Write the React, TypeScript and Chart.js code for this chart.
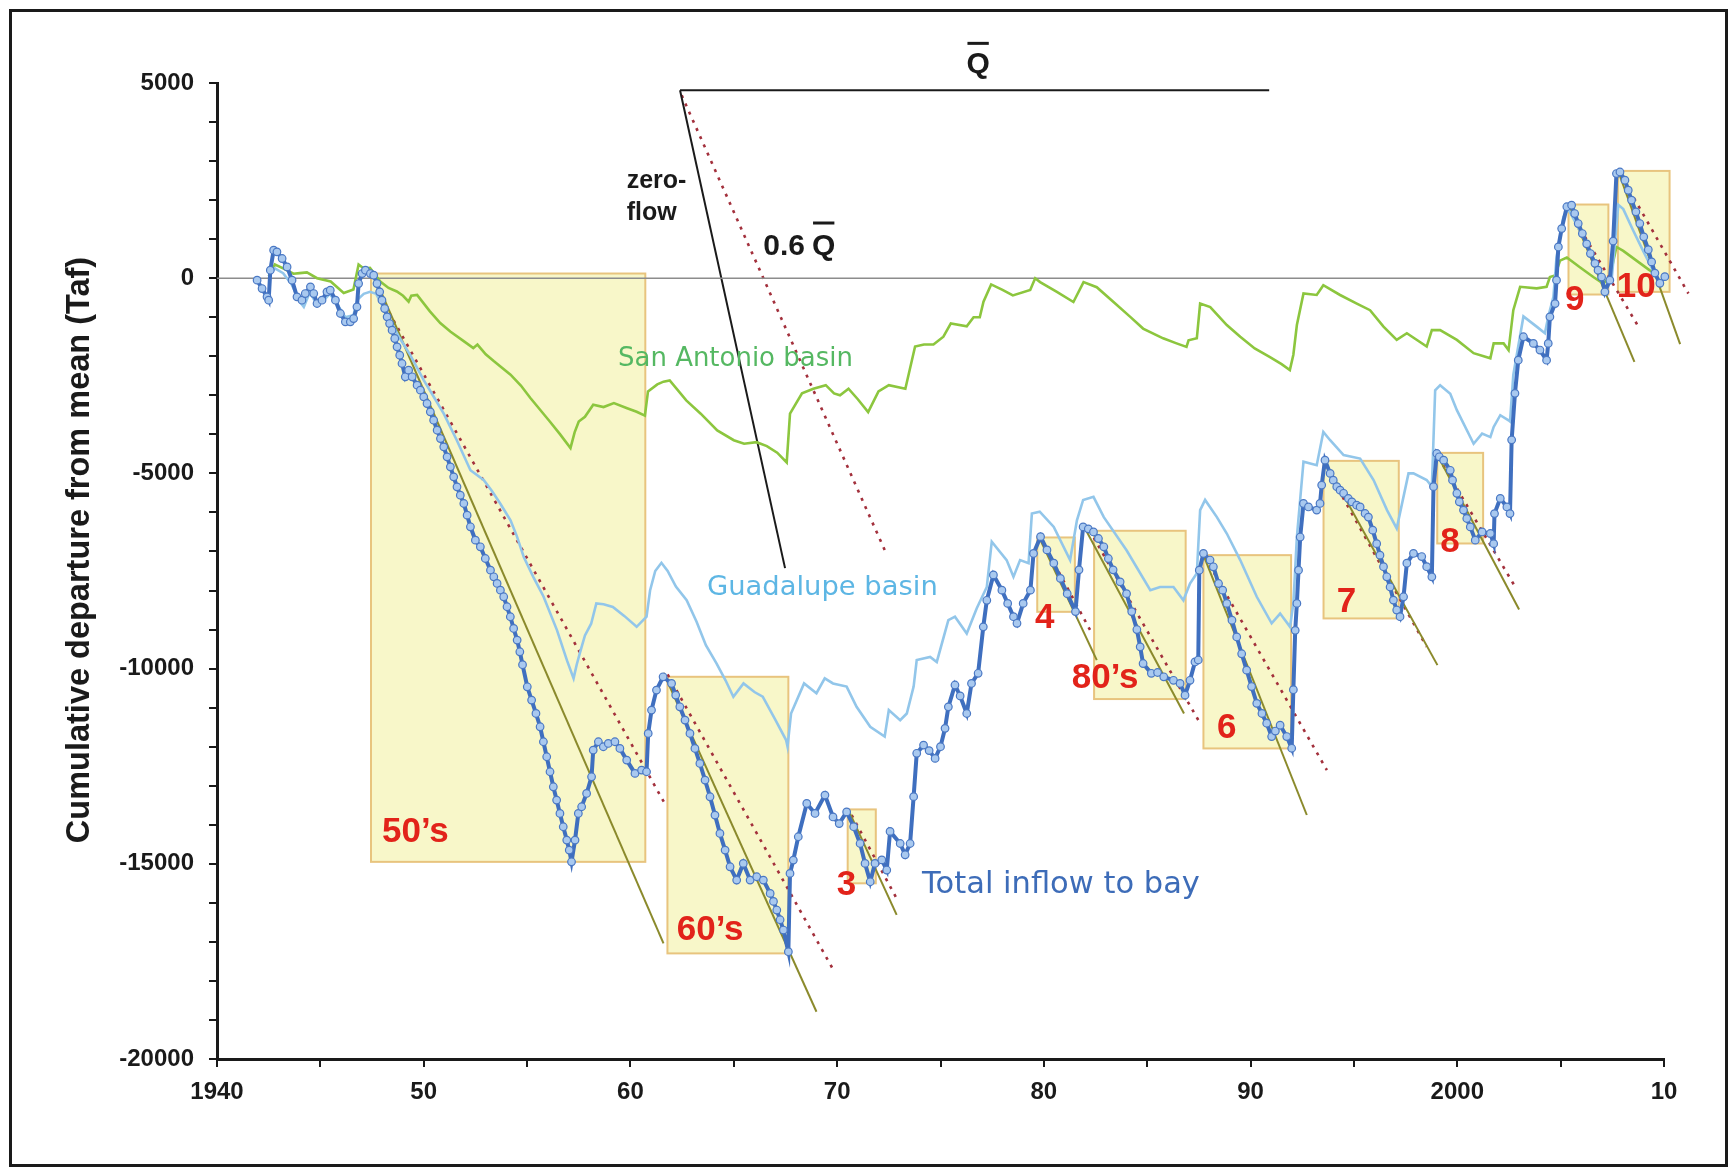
import React, { useEffect, useRef } from 'react';
import { Chart, registerables } from 'chart.js';

Chart.register(...registerables);

// ---------------- DATA ----------------
const totalYears = [
  1941.94, 1942.18, 1942.42, 1942.5, 1942.58, 1942.74, 1942.9, 1943.15, 1943.39, 1943.63, 1943.87, 1944.11, 1944.27,
  1944.52, 1944.68, 1944.84, 1945.08, 1945.32, 1945.48, 1945.73, 1945.97, 1946.21, 1946.45, 1946.61, 1946.77, 1946.85,
  1947.02, 1947.18, 1947.42, 1947.58, 1947.74, 1947.87, 1947.98, 1948.11, 1948.23, 1948.35, 1948.47, 1948.6, 1948.71,
  1948.84, 1948.95, 1949.11, 1949.27, 1949.44, 1949.68, 1949.84, 1950.0, 1950.16, 1950.32, 1950.48, 1950.65, 1950.81,
  1950.97, 1951.13, 1951.29, 1951.45, 1951.61, 1951.77, 1951.94, 1952.1, 1952.26, 1952.5, 1952.74, 1952.98, 1953.23,
  1953.39, 1953.55, 1953.71, 1953.87, 1954.03, 1954.19, 1954.35, 1954.52, 1954.65, 1954.78, 1955.01, 1955.22, 1955.43,
  1955.63, 1955.79, 1955.95, 1956.11, 1956.27, 1956.43, 1956.59, 1956.75, 1956.92, 1957.04, 1957.15, 1957.32, 1957.48,
  1957.64, 1957.88, 1958.12, 1958.2, 1958.45, 1958.69, 1958.93, 1959.25, 1959.49, 1959.82, 1960.22, 1960.54, 1960.78,
  1960.86, 1961.02, 1961.26, 1961.58, 1961.99, 1962.19, 1962.39, 1962.64, 1962.88, 1963.12, 1963.36, 1963.61, 1963.85,
  1964.09, 1964.33, 1964.58, 1964.82, 1965.14, 1965.46, 1965.79, 1966.11, 1966.43, 1966.76, 1966.92, 1967.08, 1967.24,
  1967.4, 1967.64, 1967.72, 1967.88, 1968.12, 1968.53, 1968.93, 1969.41, 1969.8, 1970.1, 1970.46, 1970.8, 1971.11,
  1971.35, 1971.6, 1971.83, 1972.16, 1972.4, 1972.56, 1973.05, 1973.29, 1973.53, 1973.7, 1973.85, 1974.18, 1974.45,
  1974.74, 1975.0, 1975.22, 1975.38, 1975.7, 1975.95, 1976.27, 1976.5, 1976.82, 1977.07, 1977.24, 1977.56, 1977.97,
  1978.25, 1978.53, 1978.7, 1979.0, 1979.35, 1979.5, 1979.84, 1980.15, 1980.48, 1980.8, 1981.13, 1981.53, 1981.7,
  1981.9, 1982.15, 1982.4, 1982.64, 1982.9, 1983.12, 1983.35, 1983.69, 1984.0, 1984.25, 1984.5, 1984.66, 1984.8,
  1985.2, 1985.5, 1985.8, 1986.27, 1986.59, 1986.83, 1987.07, 1987.31, 1987.47, 1987.52, 1987.72, 1988.04, 1988.2,
  1988.45, 1988.65, 1988.85, 1989.1, 1989.33, 1989.57, 1989.81, 1990.05, 1990.3, 1990.55, 1990.78, 1991.02, 1991.2,
  1991.43, 1991.75, 1991.99, 1992.07, 1992.16, 1992.24, 1992.32, 1992.4, 1992.56, 1992.8, 1993.2, 1993.36, 1993.44,
  1993.6, 1993.85, 1994.0, 1994.17, 1994.33, 1994.5, 1994.73, 1994.9, 1995.13, 1995.3, 1995.54, 1995.7, 1995.91,
  1996.1, 1996.26, 1996.43, 1996.59, 1996.75, 1996.91, 1997.07, 1997.23, 1997.4, 1997.56, 1997.88, 1998.28, 1998.52,
  1998.77, 1998.85, 1999.01, 1999.13, 1999.34, 1999.66, 1999.77, 1999.98, 2000.1, 2000.3, 2000.46, 2000.63, 2000.87,
  2001.2, 2001.6, 2001.76, 2001.8, 2002.08, 2002.4, 2002.55, 2002.63, 2002.79, 2002.95, 2003.2, 2003.68, 2004.0,
  2004.32, 2004.4, 2004.48, 2004.73, 2004.8, 2004.89, 2005.05, 2005.3, 2005.53, 2005.68, 2005.85, 2006.05, 2006.26,
  2006.44, 2006.66, 2006.81, 2006.98, 2007.14, 2007.38, 2007.54, 2007.7, 2007.87, 2008.11, 2008.27, 2008.43, 2008.64,
  2008.83, 2009.02, 2009.24, 2009.4, 2009.56, 2009.8, 2010.04,
];
const totalValues = [
  -50, -265, -478, -563, 205, 717, 675, 504, 290, -51, -478, -563, -393,
  -222, -393, -648, -563, -350, -307, -563, -904, -1118, -1118, -1033, -734, -137,
  119, 205, 119, 77, -137, -350, -563, -777, -990, -1161, -1332, -1545, -1758,
  -1972, -2185, -2526, -2355, -2526, -2740, -2868, -3039, -3210, -3423, -3637, -3893, -4107,
  -4320, -4576, -4832, -5088, -5344, -5558, -5771, -6070, -6368, -6710, -6880, -7180, -7478,
  -7649, -7819, -7990, -8160, -8416, -8672, -8971, -9270, -9569, -9900, -10466, -10807, -11149,
  -11490, -11874, -12258, -12642, -13027, -13368, -13710, -14051, -14393, -14649, -14948, -14393, -13710,
  -13539, -13198, -12771, -12088, -11874, -12002, -11917, -11874, -12045, -12344, -12685, -12600, -12642,
  -11661, -11063, -10551, -10210, -10380, -10679, -10978, -11319, -11661, -12045, -12429, -12856, -13283,
  -13752, -14222, -14649, -15076, -15417, -14990, -15417, -15332, -15417, -15758, -15963, -16185, -16433,
  -16697, -17252, -15246, -14905, -14307, -13454, -13710, -13240, -13800, -13970, -13670, -14050, -14480,
  -14990, -15460, -14990, -14900, -15160, -14170, -14480, -14770, -14480, -13280, -12170, -11960, -12100,
  -12300, -12000, -11530, -10980, -10420, -10700, -11150, -10380, -10120, -8930, -8250, -7600, -7990,
  -8330, -8670, -8840, -8330, -7990, -7050, -6620, -6960, -7300, -7690, -8080, -8540, -7470,
  -6370, -6420, -6500, -6668, -6880, -7180, -7470, -7778, -8080, -8540, -9000, -9443, -9870,
  -10120, -10100, -10210, -10300, -10380, -10680, -10300, -9830, -9780, -7480, -7050, -7220, -7392,
  -7820, -7990, -8330, -8760, -9190, -9620, -10040, -10460, -10890, -11150, -11400, -11740, -11600,
  -11450, -11740, -12040, -10540, -9020, -8330, -7480, -6630, -5770, -5860, -5940, -5770, -5300,
  -4660, -5000, -5173, -5340, -5429, -5510, -5643, -5730, -5813, -5860, -6027, -6120, -6454,
  -6800, -7094, -7390, -7649, -7910, -8246, -8500, -8670, -8160, -7300, -7050, -7130, -7390,
  -7650, -5340, -4490, -4575, -4660, -4920, -5173, -5510, -5728, -5940, -6155, -6370, -6710,
  -6500, -6540, -6800, -6030, -5640, -5860, -6030, -4140, -2950, -2100, -1500, -1670, -1840,
  -2100, -1670, -990, -650, -50, 800, 1270, 1830, 1870, 1656, 1400, 1144, 880,
  631, 380, 205, 30, -350, -50, 950, 2680, 2720, 2510, 2254, 2000, 1699,
  1400, 1059, 730, 418, 130, -130, 40,
];

const guadalupeYears = [
  1942.6, 1942.8, 1943.2, 1943.6, 1944.0, 1944.2, 1944.5, 1944.84, 1945.2, 1945.45, 1945.8, 1946.2, 1946.6, 1946.8,
  1947.1, 1947.4, 1947.7, 1948.0, 1948.4, 1948.8, 1949.35, 1950.0, 1950.5, 1950.97, 1951.6, 1952.26, 1952.9, 1953.3,
  1953.7, 1954.2, 1954.5, 1954.84, 1955.3, 1955.8, 1956.45, 1956.93, 1957.25, 1957.4, 1957.55, 1957.8, 1958.1, 1958.35,
  1958.7, 1959.15, 1959.7, 1960.3, 1960.78, 1960.95, 1961.2, 1961.5, 1961.8, 1962.2, 1962.72, 1963.2, 1963.65, 1964.17,
  1964.6, 1964.98, 1965.47, 1966.0, 1966.4, 1967.0, 1967.53, 1967.6, 1967.77, 1968.4, 1969.0, 1969.4, 1969.8, 1970.46,
  1970.94, 1971.6, 1972.3, 1972.5, 1973.05, 1973.37, 1973.7, 1973.85, 1974.5, 1974.82, 1975.38, 1975.7, 1976.27,
  1976.75, 1977.24, 1977.48, 1978.2, 1978.53, 1978.85, 1979.26, 1979.42, 1979.8, 1980.48, 1981.27, 1981.6, 1981.9,
  1982.4, 1982.9, 1984.0, 1985.15, 1985.62, 1986.27, 1986.75, 1987.07, 1987.4, 1987.56, 1987.8, 1988.37, 1988.85,
  1989.5, 1990.3, 1991.02, 1991.43, 1991.91, 1992.07, 1992.24, 1992.56, 1993.2, 1993.52, 1993.85, 1994.5, 1995.3,
  1995.95, 1996.6, 1997.07, 1997.64, 1997.88, 1998.52, 1998.77, 1998.93, 1999.17, 1999.66, 1999.98, 2000.79, 2001.2,
  2001.6, 2001.76, 2002.08, 2002.48, 2002.55, 2002.71, 2003.2, 2003.84, 2004.24, 2004.4, 2004.65, 2004.8, 2005.13,
  2005.37, 2005.93, 2006.42, 2006.9, 2007.14, 2007.46, 2007.79, 2008.03, 2008.51, 2008.99, 2009.47, 2009.8,
];
const guadalupeValues = [
  150, 250, 130, -150, -600, -735, -350, -700, -550, -400, -650, -1000, -950, -550,
  -400, -350, -400, -700, -1090, -1500, -1970, -2610, -3050, -3470, -4150, -4920, -5170, -5450,
  -5770, -6200, -6600, -7140, -7650, -8160, -9020, -9790, -10250, -9900, -9610, -9150, -8850, -8330,
  -8350, -8420, -8650, -8930, -8670, -8000, -7500, -7290, -7500, -7900, -8250, -8800, -9400, -9870,
  -10300, -10720, -10380, -10600, -10720, -11300, -11830, -12000, -11150, -10380, -10630, -10250, -10380, -10460,
  -10980, -11490, -11740, -11060, -11320, -11150, -10460, -9780, -9700, -9830, -8760, -8670, -9100,
  -8460, -7910, -6750, -7220, -7650, -7220, -7300, -6030, -5980, -6370, -7220, -6200, -5680,
  -5600, -6120, -6970, -7990, -7910, -7910, -8250, -7820, -7560, -5940, -5680, -6120, -6540,
  -7220, -8160, -8840, -8590, -8930, -8330, -6630, -4700, -4790, -3940, -4150, -4530, -4620,
  -5170, -5940, -6410, -5000, -5000, -5170, -5340, -2870, -2740, -2960, -3380, -4240, -3980,
  -4070, -3810, -3510, -3640, -3670, -2480, -980, -1240, -1410, -990, -480, 530, 1560,
  1770, 1220, 700, 110, -250, -80, 1880, 1770, 1220, 700, 200, -130,
];

const sanAntonioYears = [
  1942.5, 1942.8, 1943.2, 1943.7, 1944.0, 1944.35, 1944.84, 1945.5, 1946.13, 1946.6, 1946.85, 1947.1, 1947.4, 1947.9,
  1948.3, 1948.7, 1949.0, 1949.27, 1949.4, 1949.68, 1950.3, 1950.8, 1951.3, 1951.9, 1952.4, 1952.6, 1953.0, 1953.4,
  1954.2, 1954.7, 1955.16, 1955.6, 1956.1, 1956.6, 1957.1, 1957.3, 1957.5, 1957.8, 1958.2, 1958.7, 1959.2, 1959.84,
  1960.3, 1960.7, 1960.85, 1961.3, 1961.6, 1961.9, 1962.7, 1963.4, 1964.2, 1965.0, 1965.5, 1966.1, 1966.6, 1967.1,
  1967.56, 1967.72, 1968.3, 1968.85, 1969.45, 1969.85, 1970.14, 1970.55, 1971.0, 1971.5, 1972.0, 1972.5, 1973.3,
  1973.77, 1974.2, 1974.66, 1975.14, 1975.5, 1976.27, 1976.6, 1976.9, 1977.08, 1977.45, 1978.0, 1978.5, 1979.34,
  1979.58, 1979.82, 1980.63, 1981.43, 1981.92, 1982.56, 1983.37, 1984.18, 1984.8, 1985.77, 1986.42, 1986.9, 1987.0,
  1987.4, 1987.56, 1988.05, 1988.85, 1989.5, 1990.2, 1990.94, 1991.5, 1991.9, 1992.07, 1992.24, 1992.56, 1993.2,
  1993.52, 1994.33, 1995.14, 1995.78, 1996.43, 1997.07, 1997.56, 1998.52, 1998.77, 1999.17, 1999.98, 2000.79, 2001.6,
  2001.76, 2002.24, 2002.48, 2002.71, 2003.04, 2003.84, 2004.32, 2004.48, 2004.73, 2004.97, 2005.3, 2005.93, 2006.58,
  2007.06, 2007.38, 2007.7, 2008.03, 2008.67, 2009.31, 2009.64,
];
const sanAntonioValues = [
  50, 350, 250, 115, 130, 150, 0, -85, -380, -290, 350, 250, 265, -85,
  -250, -340, -450, -600, -450, -430, -850, -1150, -1370, -1600, -1790, -1700, -1950, -2130,
  -2470, -2750, -3070, -3350, -3670, -4000, -4350, -3950, -3670, -3550, -3240, -3300, -3200, -3330,
  -3420, -3520, -2900, -2720, -2650, -2620, -3130, -3470, -3900, -4150, -4240, -4200, -4300, -4470,
  -4720, -3470, -2950, -2830, -2740, -2950, -3000, -2830, -3100, -3430, -2900, -2740, -2830,
  -1750, -1700, -1700, -1500, -1160, -1230, -1000, -1000, -600, -160, -300, -440, -300,
  0, -100, -350, -610, -100, -230, -610, -990, -1290, -1540, -1670, -1760, -1590,
  -1540, -650, -740, -1200, -1500, -1800, -2020, -2200, -2350, -1960, -1200, -390, -430,
  -180, -430, -650, -820, -1240, -1580, -1410, -1750, -1330, -1330, -1580, -1920, -2050,
  -1670, -1670, -1840, -820, -220, -260, -220, 30, 70, 450, 530, 280, 30,
  -140, 30, 800, 700, 450, 200, 110,
];

// Drought boxes
const boxLabels = ['50\u2019s', '60\u2019s', '3', '4', '80\u2019s', '6', '7', '8', '9', '10'];
const boxStart = [1947.45, 1961.79, 1970.51, 1979.68, 1982.43, 1987.72, 1993.53, 1999.03, 2005.38, 2007.77];
const boxEnd = [1960.72, 1967.64, 1971.87, 1981.5, 1986.86, 1991.96, 1997.17, 2001.25, 2007.31, 2010.27];
const boxTop = [120, -10210, -13607, -6641, -6470, -7094, -4679, -4474, 1887, 2748];
const boxBottom = [-14950, -17295, -15500, -8546, -10780, -12045, -8715, -6795, -418, -350];
const boxLabelYear = [1947.98, 1962.24, 1969.98, 1979.57, 1981.35, 1988.37, 1994.17, 1999.17, 2005.21, 2007.71];
const boxLabelValue = [-14439, -16950, -15796, -8966, -10503, -11784, -8541, -7004, -814, -474];

// Zero-flow-slope (olive) lines from each drought start
const oliveStartYear = [1947.55, 1961.6, 1970.62, 1979.8, 1982.0, 1987.72, 1993.6, 1999.05, 2005.4, 2007.8];
const oliveStartValue = [120, -10110, -13710, -6667, -6420, -7094, -4700, -4540, 1850, 2720];
const oliveEndYear = [1961.6, 1969.0, 1972.88, 1982.56, 1986.78, 1992.72, 1999.04, 2002.99, 2008.57, 2010.78];
const oliveEndValue = [-17040, -18790, -16310, -9783, -11150, -13750, -9911, -8486, -2143, -1690];

// 0.6 Q-bar (dotted) lines from each drought start
const dotStartYear = [1947.9, 1961.8, 1970.7, 1979.89, 1982.2, 1987.8, 1993.6, 1999.1, 2005.5, 2007.9];
const dotStartValue = [-478, -10150, -13750, -6710, -6450, -7150, -4800, -4600, 1657, 2650];
const dotEndYear = [1961.75, 1969.82, 1972.96, 1982.24, 1987.56, 1993.69, 1998.52, 2002.8, 2008.77, 2011.18];
const dotEndValue = [-13540, -17720, -15970, -9015, -11400, -12600, -9441, -7905, -1246, -392];

// Slope key
const meanLineYears = [1962.4, 1990.9];
const meanLineValues = [4815, 4815];
const zeroFlowYears = [1962.4, 1967.48];
const zeroFlowValues = [4815, -7427];
const sixtyPctYears = [1962.48, 1972.41];
const sixtyPctValues = [4686, -7094];
const zeroLineYears = [1940, 2004.5];
const zeroLineValues = [0, 0];

// Series labels
const seriesLabelText = ['San Antonio basin', 'Guadalupe basin', 'Total inflow to bay'];
const seriesLabelYear = [1959.4, 1963.7, 1974.11];
const seriesLabelValue = [-2249, -8113, -15745];

// Key texts (year, value anchors)
const keyTextYear = { zeroFlow: 1959.82, sixty: 1966.43, qbar: 1976.82 };
const keyTextValue = { zero: 2302, flow: 1490, sixty: 594, qbar: 5247 };

// Axis ticks
const xTickValues = [1940, 1950, 1960, 1970, 1980, 1990, 2000, 2010];
const xTickLabels = ['1940', '50', '60', '70', '80', '90', '2000', '10'];
const yTickValues = [5000, 0, -5000, -10000, -15000, -20000];
const yTickLabels = ['5000', '0', '-5000', '-10000', '-15000', '-20000'];
const yTitle = 'Cumulative departure from mean (Taf)';

// ---------------- STYLE ----------------
const FONT = '"Liberation Sans", Arial, Helvetica, sans-serif';
const LABEL_FONT = '"DejaVu Sans", "Noto Sans", sans-serif';
const seriesLabelColor = ['#55b862', '#5db6e4', '#3d6cb8'];
const seriesLabelWidth = [235, 231, 278];

const zip = (xs: number[], ys: number[]) => xs.map((x, i) => ({ x, y: ys[i] }));

function drawFit(ctx: CanvasRenderingContext2D, text: string, x: number, y: number, width: number, weight: string, family: string, color: string) {
  ctx.font = `${weight} 100px ${family}`;
  const w = ctx.measureText(text).width;
  const size = (100 * width) / w;
  ctx.font = `${weight} ${size}px ${family}`;
  ctx.fillStyle = color;
  ctx.fillText(text, x, y);
}

const decorPlugin = {
  id: 'decor',
  beforeDraw(chart: any) {
    const ctx = chart.ctx as CanvasRenderingContext2D;
    ctx.save();
    ctx.fillStyle = '#ffffff';
    ctx.fillRect(0, 0, chart.width, chart.height);
    ctx.strokeStyle = '#1a1a1a';
    ctx.lineWidth = 3;
    ctx.strokeRect(10.5, 10.5, 1716, 1155);
    ctx.restore();
  },
  beforeDatasetsDraw(chart: any) {
    const ctx = chart.ctx as CanvasRenderingContext2D;
    const X = (v: number) => chart.scales.x.getPixelForValue(v);
    const Y = (v: number) => chart.scales.y.getPixelForValue(v);
    ctx.save();
    for (let i = 0; i < boxLabels.length; i++) {
      const x0 = X(boxStart[i]);
      const x1 = X(boxEnd[i]);
      const y0 = Y(boxTop[i]);
      const y1 = Y(boxBottom[i]);
      ctx.fillStyle = '#f8f7c9';
      ctx.fillRect(x0, y0, x1 - x0, y1 - y0);
      ctx.strokeStyle = '#e8c47e';
      ctx.lineWidth = 2;
      ctx.strokeRect(x0, y0, x1 - x0, y1 - y0);
    }
    ctx.restore();
  },
  afterDatasetsDraw(chart: any) {
    const ctx = chart.ctx as CanvasRenderingContext2D;
    const X = (v: number) => chart.scales.x.getPixelForValue(v);
    const Y = (v: number) => chart.scales.y.getPixelForValue(v);
    ctx.save();
    ctx.textBaseline = 'alphabetic';
    ctx.textAlign = 'left';

    // drought labels
    ctx.font = `bold 35px ${FONT}`;
    ctx.fillStyle = '#e2231a';
    for (let i = 0; i < boxLabels.length; i++) {
      ctx.fillText(boxLabels[i], X(boxLabelYear[i]), Y(boxLabelValue[i]));
    }

    // series labels
    for (let i = 0; i < seriesLabelText.length; i++) {
      drawFit(ctx, seriesLabelText[i], X(seriesLabelYear[i]), Y(seriesLabelValue[i]), seriesLabelWidth[i], 'normal', LABEL_FONT, seriesLabelColor[i]);
    }

    // key texts
    ctx.fillStyle = '#1a1a1a';
    ctx.font = `bold 25px ${FONT}`;
    ctx.fillText('zero-', X(keyTextYear.zeroFlow), Y(keyTextValue.zero));
    ctx.fillText('flow', X(keyTextYear.zeroFlow), Y(keyTextValue.flow));

    ctx.font = `bold 30px ${FONT}`;
    const sx = X(keyTextYear.sixty);
    const sy = Y(keyTextValue.sixty);
    ctx.fillText('0.6', sx, sy);
    const qx = sx + ctx.measureText('0.6').width + 7;
    ctx.fillText('Q', qx, sy);
    const qw = ctx.measureText('Q').width;
    ctx.strokeStyle = '#1a1a1a';
    ctx.lineWidth = 3;
    ctx.beginPath();
    ctx.moveTo(qx + 1, sy - 32);
    ctx.lineTo(qx + qw - 1, sy - 32);
    ctx.stroke();

    const tx = X(keyTextYear.qbar);
    const ty = Y(keyTextValue.qbar);
    ctx.textAlign = 'center';
    ctx.fillText('Q', tx, ty);
    ctx.beginPath();
    ctx.moveTo(tx - qw / 2 + 1, ty - 30);
    ctx.lineTo(tx + qw / 2 - 1, ty - 30);
    ctx.stroke();

    // y-axis title
    ctx.translate(chart.chartArea.left - 136.5, 550);
    ctx.rotate(-Math.PI / 2);
    ctx.textAlign = 'center';
    ctx.textBaseline = 'middle';
    ctx.font = `bold 32.5px ${FONT}`;
    ctx.fillStyle = '#1a1a1a';
    ctx.fillText(yTitle, 0, 0);
    ctx.restore();
  },
};

function lineSet(data: { x: number; y: number }[], color: string, width: number, dash?: number[]) {
  return {
    data,
    borderColor: color,
    borderWidth: width,
    borderDash: dash || [],
    pointRadius: 0,
    fill: false,
    tension: 0,
    clip: false as any,
  };
}

export default function App() {
  const ref = useRef<HTMLCanvasElement>(null);

  useEffect(() => {
    if (!ref.current) return;
    const datasets: any[] = [
      {
        data: zip(totalYears, totalValues),
        borderColor: '#3f6fbf',
        borderWidth: 4,
        pointRadius: 3.8,
        pointBackgroundColor: '#a9c9ef',
        pointBorderColor: '#4a78c4',
        pointBorderWidth: 1.2,
        fill: false,
        tension: 0,
        clip: false,
      },
      lineSet(zip(guadalupeYears, guadalupeValues), '#92c6ea', 2.6),
      lineSet(zip(sanAntonioYears, sanAntonioValues), '#8cc63e', 2.6),
      lineSet(zip(zeroLineYears, zeroLineValues), '#8c8c8c', 1.6),
      lineSet(zip(meanLineYears, meanLineValues), '#1a1a1a', 2),
      lineSet(zip(zeroFlowYears, zeroFlowValues), '#1a1a1a', 2),
      lineSet(zip(sixtyPctYears, sixtyPctValues), '#a3303c', 2.6, [3, 6]),
    ];
    for (let i = 0; i < oliveStartYear.length; i++) {
      datasets.push(lineSet(zip([oliveStartYear[i], oliveEndYear[i]], [oliveStartValue[i], oliveEndValue[i]]), '#8b8a2c', 2));
    }
    for (let i = 0; i < dotStartYear.length; i++) {
      datasets.push(lineSet(zip([dotStartYear[i], dotEndYear[i]], [dotStartValue[i], dotEndValue[i]]), '#a3303c', 2.6, [3, 6]));
    }

    const chart = new Chart(ref.current, {
      type: 'line',
      data: { datasets },
      options: {
        animation: false,
        responsive: false,
        devicePixelRatio: 1,
        events: [],
        layout: { padding: { top: 83, right: 66, bottom: 0, left: 0 } },
        plugins: { legend: { display: false }, tooltip: { enabled: false }, title: { display: false } },
        scales: {
          x: {
            type: 'linear',
            min: 1940,
            max: 2010,
            afterFit: (s: any) => {
              s.height = 109;
            },
            ticks: {
              stepSize: 5,
              autoSkip: false,
              maxRotation: 0,
              minRotation: 0,
              padding: 11,
              color: '#1a1a1a',
              font: { family: FONT, size: 24, weight: 'bold' },
              callback: (v: any) => {
                const i = xTickValues.indexOf(Math.round(Number(v)));
                return i >= 0 ? xTickLabels[i] : '';
              },
            },
            grid: { drawOnChartArea: false, drawTicks: true, tickLength: 8, color: '#1a1a1a', lineWidth: 2 },
            border: { display: true, color: '#1a1a1a', width: 3 },
          },
          y: {
            type: 'linear',
            min: -20000,
            max: 5000,
            afterFit: (s: any) => {
              s.width = 217;
            },
            ticks: {
              stepSize: 1000,
              autoSkip: false,
              padding: 15,
              color: '#1a1a1a',
              font: { family: FONT, size: 24, weight: 'bold' },
              callback: (v: any) => {
                const i = yTickValues.indexOf(Math.round(Number(v)));
                return i >= 0 ? yTickLabels[i] : '';
              },
            },
            grid: { drawOnChartArea: false, drawTicks: true, tickLength: 8, color: '#1a1a1a', lineWidth: 2 },
            border: { display: true, color: '#1a1a1a', width: 3 },
          },
        },
      } as any,
      plugins: [decorPlugin],
    });
    return () => chart.destroy();
  }, []);

  return (
    <div style={{ position: 'fixed', left: 0, top: 0, width: 1730, height: 1168, background: '#fff' }}>
      <canvas ref={ref} width={1730} height={1168} style={{ width: 1730, height: 1168, display: 'block' }} />
    </div>
  );
}
